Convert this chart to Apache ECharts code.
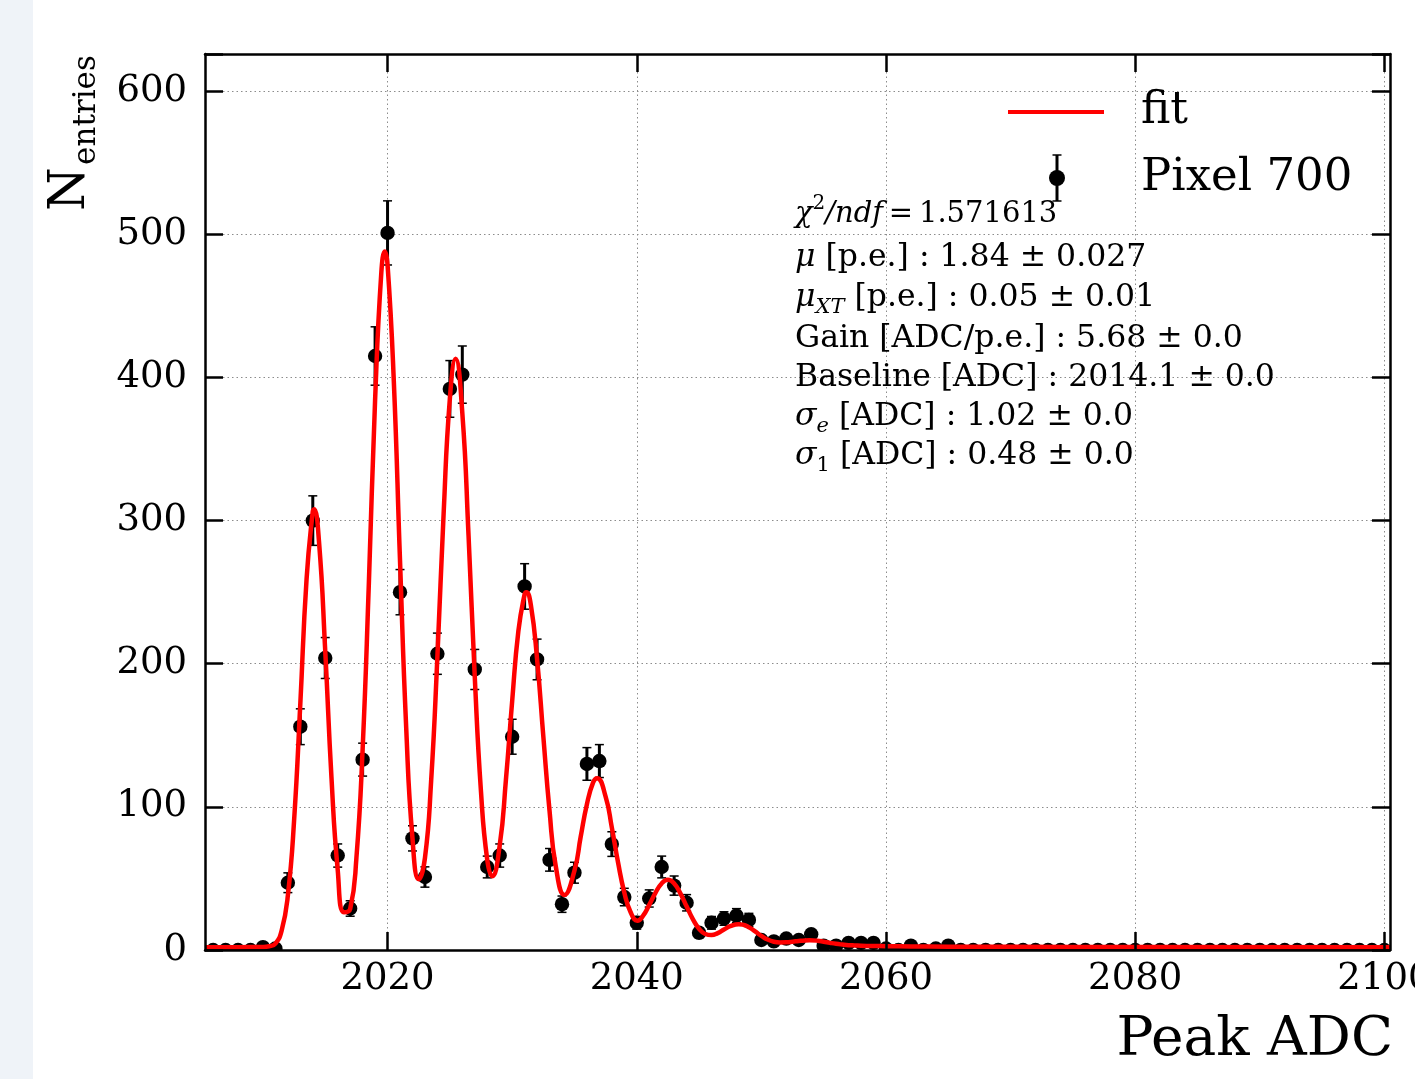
<!DOCTYPE html>
<html>
<head>
<meta charset="utf-8">
<title>Pixel 700 - Peak ADC</title>
<script src="https://cdn.jsdelivr.net/npm/echarts@6/dist/echarts.min.js"></script>
<style>
  html, body { margin: 0; padding: 0; background: #fff; }
  #side { position: absolute; left: 0; top: 0; width: 33px; height: 1079px; background: #eff3f8; }
  #chart { position: absolute; left: 0; top: 0; width: 1415px; height: 1079px; }
</style>
</head>
<body>
<div id="side"></div>
<div id="chart"></div>
<script>
// histogram bins (Peak ADC), counts and their errors
var binCenters = [2006, 2007, 2008, 2009, 2010, 2011, 2012, 2013, 2014, 2015,
  2016, 2017, 2018, 2019, 2020, 2021, 2022, 2023, 2024, 2025,
  2026, 2027, 2028, 2029, 2030, 2031, 2032, 2033, 2034, 2035,
  2036, 2037, 2038, 2039, 2040, 2041, 2042, 2043, 2044, 2045,
  2046, 2047, 2048, 2049, 2050, 2051, 2052, 2053, 2054, 2055,
  2056, 2057, 2058, 2059, 2060, 2061, 2062, 2063, 2064, 2065,
  2066, 2067, 2068, 2069, 2070, 2071, 2072, 2073, 2074, 2075,
  2076, 2077, 2078, 2079, 2080, 2081, 2082, 2083, 2084, 2085,
  2086, 2087, 2088, 2089, 2090, 2091, 2092, 2093, 2094, 2095,
  2096, 2097, 2098, 2099, 2100];
var counts = [0, 0, 0, 0, 2, 1, 47, 156, 300, 204,
  66, 29, 133, 415, 501, 250, 78, 51, 207, 392,
  402, 196, 58, 66, 149, 254, 203, 63, 32, 54,
  130, 132, 74, 37, 19, 36, 58, 45, 33, 12,
  19, 22, 24, 21, 7, 6, 8, 7, 11, 3,
  3, 5, 5, 5, 1, 0, 3, 0, 1, 3,
  0, 0, 0, 0, 0, 0, 0, 0, 0, 0,
  0, 0, 0, 0, 0, 0, 0, 0, 0, 0,
  0, 0, 0, 0, 0, 0, 0, 0, 0, 0,
  0, 0, 0, 0, 0];
var countErrors = [0, 0, 0, 0, 1.4, 1.0, 6.9, 12.5, 17.3, 14.3,
  8.1, 5.4, 11.5, 20.4, 22.4, 15.8, 8.8, 7.1, 14.4, 19.8,
  20.0, 14.0, 7.6, 8.1, 12.2, 15.9, 14.2, 7.9, 5.7, 7.3,
  11.4, 11.5, 8.6, 6.1, 4.4, 6.0, 7.6, 6.7, 5.7, 3.5,
  4.4, 4.7, 4.9, 4.6, 2.6, 2.4, 2.8, 2.6, 3.3, 1.7,
  1.7, 2.2, 2.2, 2.2, 1.0, 0, 1.7, 0, 1.0, 1.7,
  0, 0, 0, 0, 0, 0, 0, 0, 0, 0,
  0, 0, 0, 0, 0, 0, 0, 0, 0, 0,
  0, 0, 0, 0, 0, 0, 0, 0, 0, 0,
  0, 0, 0, 0, 0];

// fit curve: [Peak ADC, entries]
var fitPoints = [
  [2005.35, 2], [2008, 2], [2010, 2.1], [2010.5, 2.6], [2011, 4.5], [2011.5, 13.5],
  [2012, 38], [2012.5, 90.5], [2013, 172.2], [2013.5, 259], [2014, 306.5], [2014.1, 308],
  [2014.5, 285.2], [2015, 208.9], [2015.5, 120.5], [2016, 56], [2016.5, 26.4], [2017, 28.7],
  [2017.5, 64.2], [2018, 140.4], [2018.5, 256.1], [2019, 384.1], [2019.5, 473.2], [2019.78, 488],
  [2020, 478.8], [2020.5, 398], [2021, 272.2], [2021.5, 154.6], [2022, 78.1], [2022.5, 49.4],
  [2023, 64.2], [2023.5, 118.3], [2024, 204.8], [2024.5, 304.8], [2025, 385.1], [2025.46, 413],
  [2026, 375.3], [2026.5, 289.6], [2027, 190.8], [2027.5, 110.5], [2028, 63], [2028.4, 51.5],
  [2029, 73], [2029.5, 118.9], [2030, 173.7], [2030.5, 222.8], [2031, 248.6], [2031.14, 250],
  [2031.5, 241.1], [2032, 203.3], [2032.5, 149.4], [2033, 97.3], [2033.5, 58.5], [2034.2, 38.5],
  [2035, 55.5], [2035.5, 79.1], [2036, 101.9], [2036.5, 117.1], [2036.82, 120],
  [2037.5, 107.2], [2038, 85.5], [2038.5, 61.1], [2039, 40.2], [2039.5, 26.5], [2040.05, 20.5],
  [2040.5, 23.8], [2041, 31.5], [2041.5, 39.9], [2042, 46.5], [2042.5, 49], [2043, 46.5],
  [2043.5, 39.6], [2044, 30.5], [2044.5, 21.6], [2045, 14.8], [2045.5, 11.2], [2046, 10.4],
  [2046.5, 11.8], [2047, 14.3], [2047.5, 16.6], [2048.18, 18], [2048.5, 17.7], [2049, 15.9],
  [2049.5, 13], [2050, 9.9], [2050.5, 7.3], [2051, 5.8], [2051.5, 5.3], [2052, 5.4],
  [2052.5, 5.8], [2053, 6.3], [2053.5, 6.7], [2053.86, 6.8], [2054.5, 6.5], [2055, 5.8],
  [2055.5, 5.0], [2056, 4.3], [2056.5, 3.8], [2057, 3.4], [2057.5, 3.2], [2058, 3.0],
  [2059, 2.8], [2060, 2.7], [2062, 2.5], [2065, 2.3], [2070, 2.2], [2080, 2.1], [2100.45, 2]
];

var xTicks = [2020, 2040, 2060, 2080, 2100];
var statLines = [
  '{ic|\u03c7}{sup|2}{ic|/ndf}{tc|\u2009=\u20091.571613}',
  '{i|\u03bc}{t| [p.e.] : 1.84 \u00b1 0.027}',
  '{i|\u03bc}{sub|XT}{t| [p.e.] : 0.05 \u00b1 0.01}',
  '{t|Gain [ADC/p.e.] : 5.68 \u00b1 0.0}',
  '{t|Baseline [ADC] : 2014.1 \u00b1 0.0}',
  '{i|\u03c3}{sub|e}{t| [ADC] : 1.02 \u00b1 0.0}',
  '{i|\u03c3}{subr|1}{t| [ADC] : 0.48 \u00b1 0.0}'
];

var serif = 'DejaVu Serif';
var xMin = 2005.35, xMax = 2100.45;
var yMax = 626;

var errData = [];
for (var i = 0; i < binCenters.length; i++) {
  errData.push([binCenters[i], counts[i], countErrors[i]]);
}

function renderErrorBar(params, api) {
  var x = api.value(0), y = api.value(1), err = api.value(2);
  if (!(err > 0)) return null;
  var hi = api.coord([x, y + err]);
  var lo = api.coord([x, y - err]);
  var cap = 4.5;
  var stem = { stroke: '#000', lineWidth: 3 };
  var capStyle = { stroke: '#000', lineWidth: 1.5 };
  return {
    type: 'group',
    children: [
      { type: 'line', shape: { x1: hi[0], y1: hi[1], x2: lo[0], y2: lo[1] }, style: stem },
      { type: 'line', shape: { x1: hi[0] - cap, y1: hi[1], x2: hi[0] + cap, y2: hi[1] }, style: capStyle },
      { type: 'line', shape: { x1: lo[0] - cap, y1: lo[1], x2: lo[0] + cap, y2: lo[1] }, style: capStyle }
    ]
  };
}

function renderDot(params, api) {
  var p = api.coord([api.value(0), api.value(1)]);
  return { type: 'circle', shape: { cx: p[0], cy: p[1], r: 7.2 }, style: { fill: '#000' } };
}

var frameLine = { show: true, onZero: false, lineStyle: { color: '#000', width: 2.5 } };
var frameTick = { show: true, inside: true, length: 18, lineStyle: { color: '#000', width: 2.5 } };
var gridDots = { show: true, lineStyle: { color: '#8c8c8c', width: 1, type: [1.5, 3] } };

var statRich = {
  t: { fontFamily: serif, fontSize: 31.5, lineHeight: 40, fill: '#000' },
  i: { fontFamily: serif, fontSize: 31.5, fontStyle: 'italic', lineHeight: 40, fill: '#000' },
  tc: { fontFamily: serif, fontSize: 29, lineHeight: 40, fill: '#000' },
  ic: { fontFamily: serif, fontSize: 29, fontStyle: 'italic', lineHeight: 40, fill: '#000' },
  sub: { fontFamily: serif, fontSize: 21, fontStyle: 'italic', lineHeight: 21, verticalAlign: 'bottom', fill: '#000' },
  subr: { fontFamily: serif, fontSize: 21, lineHeight: 21, verticalAlign: 'bottom', fill: '#000' },
  sup: { fontFamily: serif, fontSize: 20, lineHeight: 21, verticalAlign: 'top', fill: '#000' }
};
var statY = [214, 258, 298, 339, 378, 417, 456];

var graphics = [
  // legend
  { type: 'line', z: 100, shape: { x1: 1008, y1: 112, x2: 1104, y2: 112 }, style: { stroke: '#ff0000', lineWidth: 4 } },
  { type: 'line', z: 100, shape: { x1: 1057, y1: 155, x2: 1057, y2: 201 }, style: { stroke: '#000', lineWidth: 3 } },
  { type: 'line', z: 100, shape: { x1: 1052.5, y1: 155, x2: 1061.5, y2: 155 }, style: { stroke: '#000', lineWidth: 1.5 } },
  { type: 'line', z: 100, shape: { x1: 1052.5, y1: 201, x2: 1061.5, y2: 201 }, style: { stroke: '#000', lineWidth: 1.5 } },
  { type: 'circle', z: 100, shape: { cx: 1057, cy: 178, r: 8 }, style: { fill: '#000' } },
  { type: 'text', z: 100, x: 1141, y: 112, style: { text: 'fit', fontFamily: serif, fontSize: 44, fill: '#000', align: 'left', verticalAlign: 'middle' } },
  { type: 'text', z: 100, x: 1141, y: 178, style: { text: 'Pixel 700', fontFamily: serif, fontSize: 45, fill: '#000', align: 'left', verticalAlign: 'middle' } },
  // axis titles
  { type: 'text', z: 100, x: 1393, y: 1041, style: { text: 'Peak ADC', fontFamily: serif, fontSize: 55, fill: '#000', align: 'right', verticalAlign: 'middle' } },
  { type: 'text', z: 100, x: 71, y: 189, rotation: Math.PI / 2, style: { text: 'N', fontFamily: serif, fontSize: 50, fill: '#000', align: 'center', verticalAlign: 'middle' } },
  { type: 'text', z: 100, x: 87, y: 110, rotation: Math.PI / 2, style: { text: 'entries', fontFamily: serif, fontSize: 31, fill: '#000', align: 'center', verticalAlign: 'middle' } }
];
statLines.forEach(function (line, k) {
  graphics.push({
    type: 'text', z: 100, x: 795, y: statY[k],
    style: { text: line, rich: statRich, align: 'left', verticalAlign: 'middle', fontFamily: serif, fontSize: 31.5, fill: '#000' }
  });
});

var chart = echarts.init(document.getElementById('chart'));
var option = {
  animation: false,
  backgroundColor: 'transparent',
  grid: { left: 205, top: 54, width: 1185, height: 896, containLabel: false, outerBoundsMode: 'none' },
  xAxis: [
    {
      // labels + grid, drawn under the data
      type: 'value', min: xMin, max: xMax, position: 'bottom',
      axisLine: { show: false }, axisTick: { show: false, customValues: xTicks },
      axisLabel: { show: true, customValues: xTicks, margin: 11, fontFamily: serif, fontSize: 37, color: '#000',
        formatter: function (v) { return String(v); } },
      splitLine: gridDots
    },
    {
      type: 'value', min: xMin, max: xMax, position: 'bottom', z: 10,
      axisLine: frameLine, axisTick: Object.assign({ customValues: xTicks }, frameTick),
      axisLabel: { show: false }, splitLine: { show: false }
    },
    {
      type: 'value', min: xMin, max: xMax, position: 'top', z: 10,
      axisLine: frameLine, axisTick: Object.assign({ customValues: xTicks }, frameTick),
      axisLabel: { show: false }, splitLine: { show: false }
    }
  ],
  yAxis: [
    {
      type: 'value', min: 0, max: yMax, interval: 100, position: 'left',
      axisLine: { show: false }, axisTick: { show: false },
      axisLabel: { show: true, margin: 18, fontFamily: serif, fontSize: 37, color: '#000', showMaxLabel: false },
      splitLine: gridDots
    },
    {
      type: 'value', min: 0, max: yMax, interval: 100, position: 'left', z: 10,
      axisLine: frameLine, axisTick: frameTick, axisLabel: { show: false }, splitLine: { show: false }
    },
    {
      type: 'value', min: 0, max: yMax, interval: 100, position: 'right', z: 10,
      axisLine: frameLine, axisTick: frameTick, axisLabel: { show: false }, splitLine: { show: false }
    }
  ],
  series: [
    {
      name: 'Pixel 700 errors', type: 'custom', renderItem: renderErrorBar,
      data: errData, encode: { x: 0, y: 1 }, clip: true, z: 2, silent: true
    },
    {
      name: 'Pixel 700', type: 'custom', renderItem: renderDot,
      data: errData, encode: { x: 0, y: 1 }, clip: true, z: 3, silent: true
    },
    {
      name: 'fit', type: 'line', data: fitPoints, smooth: true, showSymbol: false, symbol: 'none',
      lineStyle: { color: '#ff0000', width: 4.5 }, clip: true, z: 4, silent: true
    }
  ],
  graphic: graphics
};
chart.setOption(option);
</script>
</body>
</html>
